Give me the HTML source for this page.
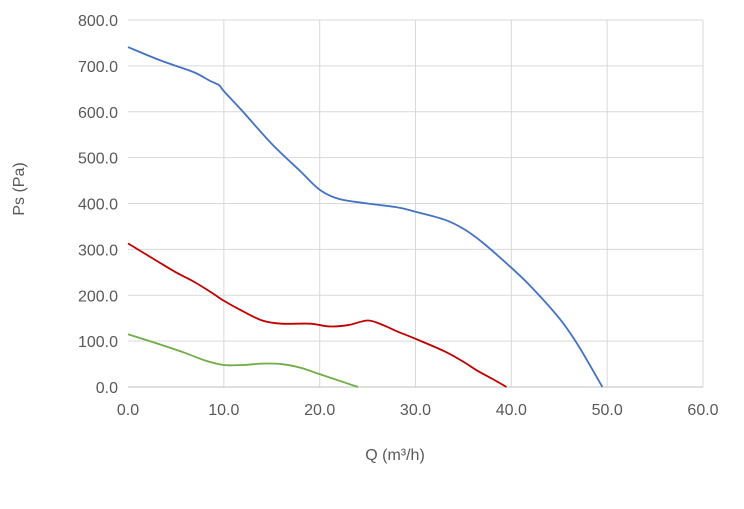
<!DOCTYPE html>
<html><head><meta charset="utf-8"><style>
body{margin:0;background:#fff;}
svg{display:block;font-family:"Liberation Sans",Calibri,sans-serif;}
</style></head><body>
<svg id="chart" width="744" height="509">
<g id="grid"></g>
<g id="axes"></g>
<g id="series"></g>
<text x="395" y="460" text-anchor="middle" font-size="16" fill="#595959">Q (m³/h)</text>
<text transform="translate(24,189) rotate(-90)" text-anchor="middle" font-size="16" fill="#595959">Ps (Pa)</text>
</svg>
<script>
const xTicks=[0,10,20,30,40,50,60];
const yTicks=[0,100,200,300,400,500,600,700,800];
const blueQ=[0,3,5,7,8.5,9.5,10,12,15,18,20,22,25,28,30,33,35,37,40,42,45,47,49.5];
const blueP=[741,715,700,685,668,658,645,600,530,470,430,410,400,392,382,365,345,315,260,220,150,90,0];
const redQ=[0,3,5,7,9,10,12,14,16,19,21,23,25,26.5,28,30,33,35,36.5,38,39.5];
const redP=[313,275,250,228,202,188,165,145,138,138,132,135,145,136,122,105,78,55,35,18,0];
const greenQ=[0,3,6,8,10,12,14,16,18,20,22,24];
const greenP=[115,95,74,58,48,48,51,50,42,28,14,0];
const X0=128,X1=703,Y0=387,Y1=20;
const sx=v=>X0+(v-0)/60*(X1-X0);
const sy=v=>Y0-(v/800)*(Y0-Y1);
const NS="http://www.w3.org/2000/svg";
const grid=document.getElementById('grid'),axes=document.getElementById('axes'),ser=document.getElementById('series');
function mk(t,a,p){const e=document.createElementNS(NS,t);for(const k in a)e.setAttribute(k,a[k]);p.appendChild(e);return e;}
yTicks.forEach(v=>{
 if(v>0){const l=mk('line',{x1:X0,x2:X1,y1:sy(v),y2:sy(v),stroke:'#d9d9d9','stroke-width':1},grid);
 
 }
 const t=mk('text',{x:118,y:sy(v)+6,'text-anchor':'end','font-size':16,fill:'#595959'},axes);
 t.textContent=v.toFixed(1);
 
 
});
xTicks.forEach(v=>{
 if(v>0){const l=mk('line',{x1:sx(v),x2:sx(v),y1:Y1,y2:Y0,stroke:'#d9d9d9','stroke-width':1},grid);
 
 }
 const t=mk('text',{x:sx(v),y:415,'text-anchor':'middle','font-size':16,fill:'#595959'},axes);
 t.textContent=v.toFixed(1);
 
 
});
const ax=mk('line',{x1:X0,x2:X1,y1:Y0,y2:Y0,stroke:'#bfbfbf','stroke-width':1},axes);


function smooth(xs,ys){
 const p=xs.map((x,i)=>[sx(x),sy(ys[i])]);
 let d='M'+p[0][0]+','+p[0][1];
 for(let i=0;i<p.length-1;i++){
  const p0=p[i-1]||p[i],p1=p[i],p2=p[i+1],p3=p[i+2]||p2;
  const c1=[p1[0]+(p2[0]-p0[0])/6,p1[1]+(p2[1]-p0[1])/6];
  const c2=[p2[0]-(p3[0]-p1[0])/6,p2[1]-(p3[1]-p1[1])/6];
  d+=' C'+c1+' '+c2+' '+p2;
 }
 return d;
}
[[blueQ,blueP,'#4472c4','series-high-speed'],[redQ,redP,'#c00000','series-medium-speed'],[greenQ,greenP,'#70ad47','series-low-speed']].forEach(s=>{
 const e=mk('path',{d:smooth(s[0],s[1]),fill:'none',stroke:s[2],'stroke-width':1.8},ser);
 
 
});
</script>
</body></html>
